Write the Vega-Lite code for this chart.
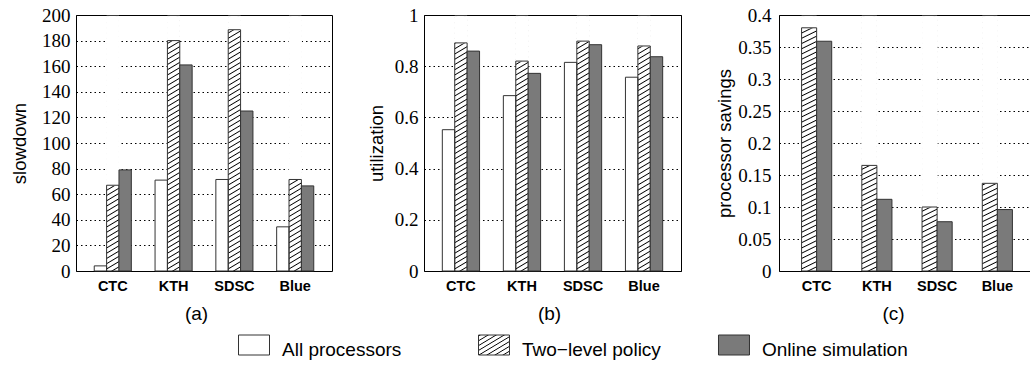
{
  "$schema": "https://vega.github.io/schema/vega-lite/v6.json",
  "background": "white",
  "padding": {"left": 10, "top": 5, "right": 0, "bottom": 0},
  "params": [
    {"name": "hatchA", "value": {
      "gradient": "linear", "x1": 0, "y1": 0, "x2": 0.0298, "y2": 1.0281,
      "stops": [
        {"offset": 0, "color": "#fff"}, {"offset": 0.004, "color": "#000"}, {"offset": 0.008, "color": "#fff"},
        {"offset": 0.02, "color": "#fff"}, {"offset": 0.024, "color": "#000"}, {"offset": 0.028, "color": "#fff"},
        {"offset": 0.04, "color": "#fff"}, {"offset": 0.044, "color": "#000"}, {"offset": 0.048, "color": "#fff"},
        {"offset": 0.06, "color": "#fff"}, {"offset": 0.064, "color": "#000"}, {"offset": 0.068, "color": "#fff"},
        {"offset": 0.08, "color": "#fff"}, {"offset": 0.084, "color": "#000"}, {"offset": 0.088, "color": "#fff"},
        {"offset": 0.1, "color": "#fff"}, {"offset": 0.104, "color": "#000"}, {"offset": 0.108, "color": "#fff"},
        {"offset": 0.12, "color": "#fff"}, {"offset": 0.124, "color": "#000"}, {"offset": 0.128, "color": "#fff"},
        {"offset": 0.14, "color": "#fff"}, {"offset": 0.144, "color": "#000"}, {"offset": 0.148, "color": "#fff"},
        {"offset": 0.16, "color": "#fff"}, {"offset": 0.164, "color": "#000"}, {"offset": 0.168, "color": "#fff"},
        {"offset": 0.18, "color": "#fff"}, {"offset": 0.184, "color": "#000"}, {"offset": 0.188, "color": "#fff"},
        {"offset": 0.2, "color": "#fff"}, {"offset": 0.204, "color": "#000"}, {"offset": 0.208, "color": "#fff"},
        {"offset": 0.22, "color": "#fff"}, {"offset": 0.224, "color": "#000"}, {"offset": 0.228, "color": "#fff"},
        {"offset": 0.24, "color": "#fff"}, {"offset": 0.244, "color": "#000"}, {"offset": 0.248, "color": "#fff"},
        {"offset": 0.26, "color": "#fff"}, {"offset": 0.264, "color": "#000"}, {"offset": 0.268, "color": "#fff"},
        {"offset": 0.28, "color": "#fff"}, {"offset": 0.284, "color": "#000"}, {"offset": 0.288, "color": "#fff"},
        {"offset": 0.3, "color": "#fff"}, {"offset": 0.304, "color": "#000"}, {"offset": 0.308, "color": "#fff"},
        {"offset": 0.32, "color": "#fff"}, {"offset": 0.324, "color": "#000"}, {"offset": 0.328, "color": "#fff"},
        {"offset": 0.34, "color": "#fff"}, {"offset": 0.344, "color": "#000"}, {"offset": 0.348, "color": "#fff"},
        {"offset": 0.36, "color": "#fff"}, {"offset": 0.364, "color": "#000"}, {"offset": 0.368, "color": "#fff"},
        {"offset": 0.38, "color": "#fff"}, {"offset": 0.384, "color": "#000"}, {"offset": 0.388, "color": "#fff"},
        {"offset": 0.4, "color": "#fff"}, {"offset": 0.404, "color": "#000"}, {"offset": 0.408, "color": "#fff"},
        {"offset": 0.42, "color": "#fff"}, {"offset": 0.424, "color": "#000"}, {"offset": 0.428, "color": "#fff"},
        {"offset": 0.44, "color": "#fff"}, {"offset": 0.444, "color": "#000"}, {"offset": 0.448, "color": "#fff"},
        {"offset": 0.46, "color": "#fff"}, {"offset": 0.464, "color": "#000"}, {"offset": 0.468, "color": "#fff"},
        {"offset": 0.48, "color": "#fff"}, {"offset": 0.484, "color": "#000"}, {"offset": 0.488, "color": "#fff"},
        {"offset": 0.5, "color": "#fff"}, {"offset": 0.504, "color": "#000"}, {"offset": 0.508, "color": "#fff"},
        {"offset": 0.52, "color": "#fff"}, {"offset": 0.524, "color": "#000"}, {"offset": 0.528, "color": "#fff"},
        {"offset": 0.54, "color": "#fff"}, {"offset": 0.544, "color": "#000"}, {"offset": 0.548, "color": "#fff"},
        {"offset": 0.56, "color": "#fff"}, {"offset": 0.564, "color": "#000"}, {"offset": 0.568, "color": "#fff"},
        {"offset": 0.58, "color": "#fff"}, {"offset": 0.584, "color": "#000"}, {"offset": 0.588, "color": "#fff"},
        {"offset": 0.6, "color": "#fff"}, {"offset": 0.604, "color": "#000"}, {"offset": 0.608, "color": "#fff"},
        {"offset": 0.62, "color": "#fff"}, {"offset": 0.624, "color": "#000"}, {"offset": 0.628, "color": "#fff"},
        {"offset": 0.64, "color": "#fff"}, {"offset": 0.644, "color": "#000"}, {"offset": 0.648, "color": "#fff"},
        {"offset": 0.66, "color": "#fff"}, {"offset": 0.664, "color": "#000"}, {"offset": 0.668, "color": "#fff"},
        {"offset": 0.68, "color": "#fff"}, {"offset": 0.684, "color": "#000"}, {"offset": 0.688, "color": "#fff"},
        {"offset": 0.7, "color": "#fff"}, {"offset": 0.704, "color": "#000"}, {"offset": 0.708, "color": "#fff"},
        {"offset": 0.72, "color": "#fff"}, {"offset": 0.724, "color": "#000"}, {"offset": 0.728, "color": "#fff"},
        {"offset": 0.74, "color": "#fff"}, {"offset": 0.744, "color": "#000"}, {"offset": 0.748, "color": "#fff"},
        {"offset": 0.76, "color": "#fff"}, {"offset": 0.764, "color": "#000"}, {"offset": 0.768, "color": "#fff"},
        {"offset": 0.78, "color": "#fff"}, {"offset": 0.784, "color": "#000"}, {"offset": 0.788, "color": "#fff"},
        {"offset": 0.8, "color": "#fff"}, {"offset": 0.804, "color": "#000"}, {"offset": 0.808, "color": "#fff"},
        {"offset": 0.82, "color": "#fff"}, {"offset": 0.824, "color": "#000"}, {"offset": 0.828, "color": "#fff"},
        {"offset": 0.84, "color": "#fff"}, {"offset": 0.844, "color": "#000"}, {"offset": 0.848, "color": "#fff"},
        {"offset": 0.86, "color": "#fff"}, {"offset": 0.864, "color": "#000"}, {"offset": 0.868, "color": "#fff"},
        {"offset": 0.88, "color": "#fff"}, {"offset": 0.884, "color": "#000"}, {"offset": 0.888, "color": "#fff"},
        {"offset": 0.9, "color": "#fff"}, {"offset": 0.904, "color": "#000"}, {"offset": 0.908, "color": "#fff"},
        {"offset": 0.92, "color": "#fff"}, {"offset": 0.924, "color": "#000"}, {"offset": 0.928, "color": "#fff"},
        {"offset": 0.94, "color": "#fff"}, {"offset": 0.944, "color": "#000"}, {"offset": 0.948, "color": "#fff"},
        {"offset": 0.96, "color": "#fff"}, {"offset": 0.964, "color": "#000"}, {"offset": 0.968, "color": "#fff"},
        {"offset": 0.98, "color": "#fff"}, {"offset": 0.984, "color": "#000"}, {"offset": 0.988, "color": "#fff"},
        {"offset": 1, "color": "#fff"}
      ]
    }},
    {"name": "hatchL", "value": {
      "gradient": "linear", "x1": 0, "y1": 0, "x2": 0.9625, "y2": 1.0349,
      "stops": [
        {"offset": 0, "color": "#fff"}, {"offset": 0.025, "color": "#000"}, {"offset": 0.05, "color": "#fff"},
        {"offset": 0.125, "color": "#fff"}, {"offset": 0.15, "color": "#000"}, {"offset": 0.175, "color": "#fff"},
        {"offset": 0.25, "color": "#fff"}, {"offset": 0.275, "color": "#000"}, {"offset": 0.3, "color": "#fff"},
        {"offset": 0.375, "color": "#fff"}, {"offset": 0.4, "color": "#000"}, {"offset": 0.425, "color": "#fff"},
        {"offset": 0.5, "color": "#fff"}, {"offset": 0.525, "color": "#000"}, {"offset": 0.55, "color": "#fff"},
        {"offset": 0.625, "color": "#fff"}, {"offset": 0.65, "color": "#000"}, {"offset": 0.675, "color": "#fff"},
        {"offset": 0.75, "color": "#fff"}, {"offset": 0.775, "color": "#000"}, {"offset": 0.8, "color": "#fff"},
        {"offset": 0.875, "color": "#fff"}, {"offset": 0.9, "color": "#000"}, {"offset": 0.925, "color": "#fff"},
        {"offset": 1, "color": "#fff"}
      ]
    }}
  ],
  "datasets": {
    "bars": [
      {"panel": "a", "workload": "CTC", "series": "All processors", "value": 4},
      {"panel": "a", "workload": "CTC", "series": "Two\u2212level policy", "value": 67},
      {"panel": "a", "workload": "CTC", "series": "Online simulation", "value": 79},
      {"panel": "a", "workload": "KTH", "series": "All processors", "value": 71},
      {"panel": "a", "workload": "KTH", "series": "Two\u2212level policy", "value": 180},
      {"panel": "a", "workload": "KTH", "series": "Online simulation", "value": 161},
      {"panel": "a", "workload": "SDSC", "series": "All processors", "value": 71.5},
      {"panel": "a", "workload": "SDSC", "series": "Two\u2212level policy", "value": 188.5},
      {"panel": "a", "workload": "SDSC", "series": "Online simulation", "value": 125},
      {"panel": "a", "workload": "Blue", "series": "All processors", "value": 34.5},
      {"panel": "a", "workload": "Blue", "series": "Two\u2212level policy", "value": 71.5},
      {"panel": "a", "workload": "Blue", "series": "Online simulation", "value": 66.5},
      {"panel": "b", "workload": "CTC", "series": "All processors", "value": 0.552},
      {"panel": "b", "workload": "CTC", "series": "Two\u2212level policy", "value": 0.891},
      {"panel": "b", "workload": "CTC", "series": "Online simulation", "value": 0.859},
      {"panel": "b", "workload": "KTH", "series": "All processors", "value": 0.685},
      {"panel": "b", "workload": "KTH", "series": "Two\u2212level policy", "value": 0.82},
      {"panel": "b", "workload": "KTH", "series": "Online simulation", "value": 0.772},
      {"panel": "b", "workload": "SDSC", "series": "All processors", "value": 0.815},
      {"panel": "b", "workload": "SDSC", "series": "Two\u2212level policy", "value": 0.898},
      {"panel": "b", "workload": "SDSC", "series": "Online simulation", "value": 0.884},
      {"panel": "b", "workload": "Blue", "series": "All processors", "value": 0.757},
      {"panel": "b", "workload": "Blue", "series": "Two\u2212level policy", "value": 0.879},
      {"panel": "b", "workload": "Blue", "series": "Online simulation", "value": 0.837},
      {"panel": "c", "workload": "CTC", "series": "Two\u2212level policy", "value": 0.38},
      {"panel": "c", "workload": "CTC", "series": "Online simulation", "value": 0.359},
      {"panel": "c", "workload": "KTH", "series": "Two\u2212level policy", "value": 0.165},
      {"panel": "c", "workload": "KTH", "series": "Online simulation", "value": 0.112},
      {"panel": "c", "workload": "SDSC", "series": "Two\u2212level policy", "value": 0.1},
      {"panel": "c", "workload": "SDSC", "series": "Online simulation", "value": 0.077},
      {"panel": "c", "workload": "Blue", "series": "Two\u2212level policy", "value": 0.137},
      {"panel": "c", "workload": "Blue", "series": "Online simulation", "value": 0.096}
    ],
    "series": [
      {"series": "All processors"},
      {"series": "Two\u2212level policy"},
      {"series": "Online simulation"}
    ]
  },
  "data": {"name": "bars"},
  "spacing": 10,
  "vconcat": [
    {
      "spacing": 33,
      "resolve": {"scale": {"xOffset": "independent"}},
      "hconcat": [
        {
          "width": 256, "height": 256,
          "transform": [{"filter": "datum.panel == 'a'"}],
          "encoding": {
            "x": {"field": "workload", "type": "nominal", "sort": ["CTC", "KTH", "SDSC", "Blue"], "scale": {"paddingInner": 0.39, "paddingOuter": 0.3}, "axis": {"title": "(a)", "titleX": 120}},
            "xOffset": {"field": "series", "type": "nominal", "scale": {"domain": ["All processors", "Two\u2212level policy", "Online simulation"]}}
          },
          "layer": [
            {
              "transform": [{"filter": "datum.series == 'Two\u2212level policy'"}],
              "mark": {"type": "bar", "fill": {"expr": "hatchA"}, "strokeWidth": 0},
              "encoding": {
                "y": {"datum": 0, "type": "quantitative", "scale": {"domain": [0, 200], "nice": false}, "axis": {"title": "slowdown", "values": [0, 20, 40, 60, 80, 100, 120, 140, 160, 180, 200], "titlePadding": 12}},
                "y2": {"datum": 199}
              }
            },
            {
              "transform": [{"filter": "datum.series == 'Two\u2212level policy'"}],
              "mark": {"type": "bar", "fill": "white", "stroke": "white", "strokeWidth": 1},
              "encoding": {"y": {"field": "value", "type": "quantitative", "axis": {"title": "slowdown", "values": [0, 20, 40, 60, 80, 100, 120, 140, 160, 180, 200], "titlePadding": 12}}, "y2": {"datum": 199}}
            },
            {
              "mark": {"type": "bar", "stroke": "#333", "strokeWidth": 1},
              "encoding": {
                "y": {"field": "value", "type": "quantitative", "axis": {"title": "slowdown", "values": [0, 20, 40, 60, 80, 100, 120, 140, 160, 180, 200], "titlePadding": 12}},
                "fill": {"field": "series", "type": "nominal", "scale": {"domain": ["All processors", "Two\u2212level policy", "Online simulation"], "range": ["white", "transparent", "#7a7a7a"]}, "legend": null}
              }
            }
          ]
        },
        {
          "width": 257, "height": 256,
          "transform": [{"filter": "datum.panel == 'b'"}],
          "encoding": {
            "x": {"field": "workload", "type": "nominal", "sort": ["CTC", "KTH", "SDSC", "Blue"], "scale": {"paddingInner": 0.39, "paddingOuter": 0.3}, "axis": {"title": "(b)", "titleX": 125}},
            "xOffset": {"field": "series", "type": "nominal", "scale": {"domain": ["All processors", "Two\u2212level policy", "Online simulation"]}}
          },
          "layer": [
            {
              "transform": [{"filter": "datum.series == 'Two\u2212level policy'"}],
              "mark": {"type": "bar", "fill": {"expr": "hatchA"}, "strokeWidth": 0},
              "encoding": {
                "y": {"datum": 0, "type": "quantitative", "scale": {"domain": [0, 1], "nice": false}, "axis": {"title": "utilization", "values": [0, 0.2, 0.4, 0.6, 0.8, 1], "format": "~g", "titlePadding": 8}},
                "y2": {"datum": 0.995}
              }
            },
            {
              "transform": [{"filter": "datum.series == 'Two\u2212level policy'"}],
              "mark": {"type": "bar", "fill": "white", "stroke": "white", "strokeWidth": 1},
              "encoding": {"y": {"field": "value", "type": "quantitative", "axis": {"title": "utilization", "values": [0, 0.2, 0.4, 0.6, 0.8, 1], "format": "~g", "titlePadding": 8}}, "y2": {"datum": 0.995}}
            },
            {
              "mark": {"type": "bar", "stroke": "#333", "strokeWidth": 1},
              "encoding": {
                "y": {"field": "value", "type": "quantitative", "axis": {"title": "utilization", "values": [0, 0.2, 0.4, 0.6, 0.8, 1], "format": "~g", "titlePadding": 8}},
                "fill": {"field": "series", "type": "nominal", "scale": {"domain": ["All processors", "Two\u2212level policy", "Online simulation"], "range": ["white", "transparent", "#7a7a7a"]}, "legend": null}
              }
            }
          ]
        },
        {
          "width": 256, "height": 256,
          "transform": [{"filter": "datum.panel == 'c'"}],
          "encoding": {
            "x": {"field": "workload", "type": "nominal", "sort": ["CTC", "KTH", "SDSC", "Blue"], "scale": {"paddingInner": 0.5, "paddingOuter": 0.375}, "axis": {"title": "(c)", "titleX": 114}},
            "xOffset": {"field": "series", "type": "nominal", "scale": {"domain": ["Two\u2212level policy", "Online simulation"]}}
          },
          "layer": [
            {
              "transform": [{"filter": "datum.series == 'Two\u2212level policy'"}],
              "mark": {"type": "bar", "fill": {"expr": "hatchA"}, "strokeWidth": 0},
              "encoding": {
                "y": {"datum": 0, "type": "quantitative", "scale": {"domain": [0, 0.4], "nice": false}, "axis": {"title": "processor savings", "values": [0, 0.05, 0.1, 0.15, 0.2, 0.25, 0.3, 0.35, 0.4], "format": "~g", "titlePadding": 3.25, "labelPadding": 8}},
                "y2": {"datum": 0.398}
              }
            },
            {
              "transform": [{"filter": "datum.series == 'Two\u2212level policy'"}],
              "mark": {"type": "bar", "fill": "white", "stroke": "white", "strokeWidth": 1},
              "encoding": {"y": {"field": "value", "type": "quantitative", "axis": {"title": "processor savings", "values": [0, 0.05, 0.1, 0.15, 0.2, 0.25, 0.3, 0.35, 0.4], "format": "~g", "titlePadding": 3.25, "labelPadding": 8}}, "y2": {"datum": 0.398}}
            },
            {
              "mark": {"type": "bar", "stroke": "#333", "strokeWidth": 1},
              "encoding": {
                "y": {"field": "value", "type": "quantitative", "axis": {"title": "processor savings", "values": [0, 0.05, 0.1, 0.15, 0.2, 0.25, 0.3, 0.35, 0.4], "format": "~g", "titlePadding": 3.25, "labelPadding": 8}},
                "fill": {"field": "series", "type": "nominal", "scale": {"domain": ["All processors", "Two\u2212level policy", "Online simulation"], "range": ["white", "transparent", "#7a7a7a"]}, "legend": null}
              }
            }
          ]
        }
      ]
    },
    {
      "width": 836, "height": 20,
      "data": {"name": "series"},
      "view": {"stroke": null},
      "encoding": {
        "x": {"field": "series", "type": "nominal", "sort": ["All processors", "Two\u2212level policy", "Online simulation"], "scale": {"paddingInner": 0, "paddingOuter": 0.2417}, "axis": null}
      },
      "layer": [
        {
          "transform": [{"filter": "datum.series == 'Two\u2212level policy'"}],
          "mark": {"type": "bar", "width": 31, "height": 20, "fill": {"expr": "hatchL"}, "strokeWidth": 0}
        },
        {
          "mark": {"type": "bar", "width": 31, "height": 20, "stroke": "#333", "strokeWidth": 1},
          "encoding": {
            "fill": {"field": "series", "type": "nominal", "scale": {"domain": ["All processors", "Two\u2212level policy", "Online simulation"], "range": ["white", "transparent", "#7a7a7a"]}, "legend": null}
          }
        },
        {
          "mark": {"type": "text", "align": "left", "baseline": "middle", "dx": 28, "dy": -5, "fontSize": 19, "font": "Liberation Sans", "color": "#000"},
          "encoding": {"text": {"field": "series"}}
        }
      ]
    }
  ],
  "config": {
    "font": "Liberation Sans",
    "view": {"stroke": "#000", "strokeWidth": 1},
    "axis": {"domain": false, "ticks": false, "tickSize": 0, "labelColor": "#000", "titleColor": "#000"},
    "axisY": {"grid": true, "gridColor": "#000", "gridDash": [1.5, 3], "gridWidth": 1, "labelFont": "Liberation Serif", "labelFontSize": 19, "labelPadding": 6, "titleFont": "Liberation Sans", "titleFontSize": 18.5, "titleFontWeight": "normal"},
    "axisX": {"grid": false, "labelFont": "Liberation Sans", "labelFontWeight": "bold", "labelFontSize": 14.5, "labelAngle": 0, "labelPadding": 8, "titleFont": "Liberation Sans", "titleFontSize": 19, "titleFontWeight": "normal", "titlePadding": 12}
  }
}
